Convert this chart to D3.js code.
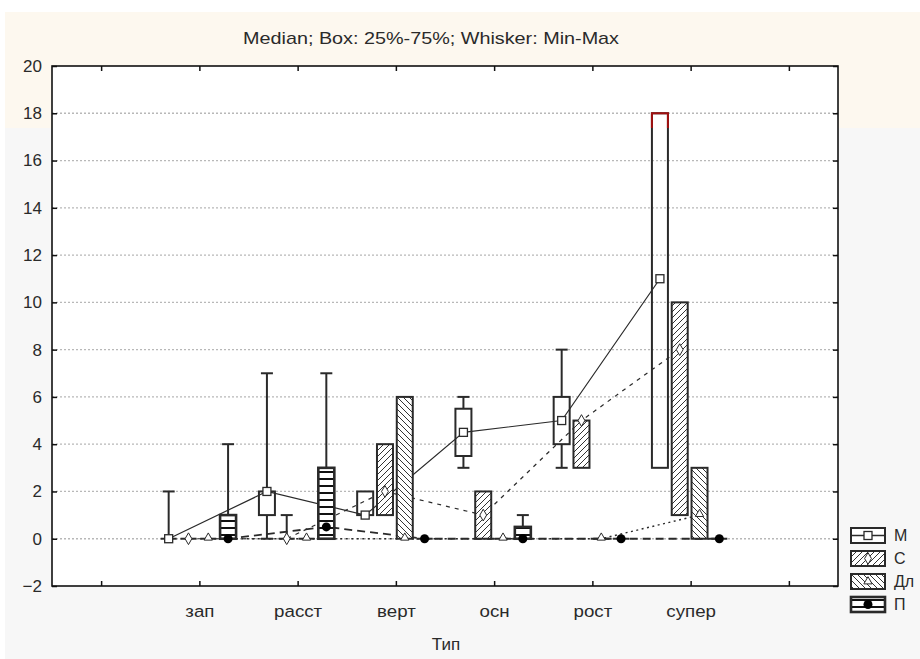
<!DOCTYPE html>
<html>
<head>
<meta charset="utf-8">
<script src="https://cdn.jsdelivr.net/npm/d3@7"></script>
<style>
  html, body { margin: 0; padding: 0; background: #ffffff; }
  svg { display: block; font-family: Arial, "Liberation Sans", sans-serif; }
</style>
</head>
<body>
<svg id="chart" width="920" height="659"></svg>
<script>
// Categories along the X axis
const categories = ["зап", "расст", "верт", "осн", "рост", "супер"];
const seriesNames = ["М", "С", "Дл", "П"];

// Series М: min, 25%, median, 75%, max
const mMin    = [0, 0, 1, 3,   3, 3];
const mQ1     = [0, 1, 1, 3.5, 4, 3];
const mMedian = [0, 2, 1, 4.5, 5, 11];
const mQ3     = [0, 2, 2, 5.5, 6, 18];
const mMax    = [2, 7, 2, 6,   8, 18];

// Series С
const cMin    = [0, 0, 1, 0, 3, 1];
const cQ1     = [0, 0, 1, 0, 3, 1];
const cMedian = [0, 0, 2, 1, 5, 8];
const cQ3     = [0, 0, 4, 2, 5, 10];
const cMax    = [0, 1, 4, 2, 5, 10];

// Series Дл
const dMin    = [0, 0, 0, 0, 0, 0];
const dQ1     = [0, 0, 0, 0, 0, 0];
const dMedian = [0, 0, 0, 0, 0, 1];
const dQ3     = [0, 0, 6, 0, 0, 3];
const dMax    = [0, 0, 6, 0, 0, 3];

// Series П
const pMin    = [0, 0,   0, 0,   0, 0];
const pQ1     = [0, 0,   0, 0,   0, 0];
const pMedian = [0, 0.5, 0, 0,   0, 0];
const pQ3     = [1, 3,   0, 0.5, 0, 0];
const pMax    = [4, 7,   0, 1,   0, 0];

const yTicks = [-2, 0, 2, 4, 6, 8, 10, 12, 14, 16, 18, 20];
const xTicks = [0, 1, 2, 3, 4, 5, 6, 7];

const svg = d3.select("#chart");
const W = 920, H = 659;
const plot = { left: 52, top: 66, right: 838, bottom: 586 };
const FS = 17;

// Backgrounds
svg.append("rect").attr("x", 0).attr("y", 0).attr("width", W).attr("height", H).attr("fill", "#ffffff");
svg.append("rect").attr("x", 5).attr("y", 12).attr("width", W - 5).attr("height", H - 12).attr("fill", "#f7f7f7");
const band = { x: 5, y: 12, w: W - 5, h: 116 };
svg.append("rect").attr("x", band.x).attr("y", band.y).attr("width", band.w).attr("height", band.h).attr("fill", "#fdf8ef");

const defs = svg.append("defs");
defs.append("clipPath").attr("id", "bandClip")
  .append("rect").attr("x", band.x).attr("y", band.y).attr("width", band.w).attr("height", band.h);

// Fill patterns
function hatch(id, dir) {
  const s = 6;
  const p = defs.append("pattern").attr("id", id).attr("patternUnits", "userSpaceOnUse")
    .attr("width", s).attr("height", s);
  p.append("rect").attr("width", s).attr("height", s).attr("fill", "#ffffff");
  const d = dir > 0
    ? `M-1,${s + 1} L${s + 1},-1 M-1,1 L1,-1 M${s - 1},${s + 1} L${s + 1},${s - 1}`
    : `M-1,-1 L${s + 1},${s + 1} M-1,${s - 1} L1,${s + 1} M${s - 1},-1 L${s + 1},1`;
  p.append("path").attr("d", d).attr("stroke", "#333").attr("stroke-width", 1).attr("fill", "none");
}
hatch("hatchC", 1);
hatch("hatchD", -1);
const stripes = defs.append("pattern").attr("id", "stripesP").attr("patternUnits", "userSpaceOnUse")
  .attr("width", 8).attr("height", 7);
stripes.append("rect").attr("width", 8).attr("height", 7).attr("fill", "#ffffff");
stripes.append("rect").attr("x", 0).attr("y", 2).attr("width", 8).attr("height", 2).attr("fill", "#111");

// Scales
const x = d3.scaleLinear().domain([-0.5, 7.5]).range([plot.left, plot.right]);
const y = d3.scaleLinear().domain([-2, 20]).range([plot.bottom, plot.top]);

// Plot area
svg.append("rect").attr("x", plot.left).attr("y", plot.top)
  .attr("width", plot.right - plot.left).attr("height", plot.bottom - plot.top).attr("fill", "#ffffff");

// Horizontal grid
svg.append("g").selectAll("line").data(yTicks.filter(t => t > -2 && t < 20)).join("line")
  .attr("x1", plot.left).attr("x2", plot.right)
  .attr("y1", d => y(d)).attr("y2", d => y(d))
  .attr("stroke", "#b8b8b8").attr("stroke-width", 1.3).attr("stroke-dasharray", "2,2");

// Series definitions
const series = [
  { name: "М",  min: mMin, q1: mQ1, med: mMedian, q3: mQ3, max: mMax, fill: "none", marker: "square", dash: null, lw: 1.2, bw: 2 },
  { name: "С",  min: cMin, q1: cQ1, med: cMedian, q3: cQ3, max: cMax, fill: "url(#hatchC)", marker: "diamond", dash: "4,5", lw: 1.2, bw: 2 },
  { name: "Дл", min: dMin, q1: dQ1, med: dMedian, q3: dQ3, max: dMax, fill: "url(#hatchD)", marker: "triangle", dash: "2,3.5", lw: 1.4, bw: 2 },
  { name: "П",  min: pMin, q1: pQ1, med: pMedian, q3: pQ3, max: pMax, fill: "url(#stripesP)", marker: "circle", dash: "8,5", lw: 1.8, bw: 2.6 }
];

const step = 19.8, boxW = 16;
const off = i => (i - 1.5) * step - 1;
const cx = (ci, si) => x(ci + 1) + off(si);
const ink = "#2a2a2a";

// Median lines
series.forEach((s, si) => {
  const line = d3.line().x((d, ci) => cx(ci, si)).y(d => y(d));
  svg.append("path").attr("d", line(s.med)).attr("fill", "none")
    .attr("stroke", ink).attr("stroke-width", s.lw)
    .attr("stroke-dasharray", s.dash);
});

function drawMarker(g, type, px, py) {
  if (type === "square") {
    g.append("rect").attr("x", px - 4).attr("y", py - 4).attr("width", 8).attr("height", 8)
      .attr("fill", "#fff").attr("stroke", ink).attr("stroke-width", 1.3);
  } else if (type === "diamond") {
    g.append("path").attr("d", d3.symbol(d3.symbolDiamond, 40)()).attr("transform", `translate(${px},${py})`)
      .attr("fill", "#fff").attr("stroke", ink).attr("stroke-width", 1);
  } else if (type === "triangle") {
    g.append("path").attr("d", d3.symbol(d3.symbolTriangle, 30)()).attr("transform", `translate(${px},${py - 1})`)
      .attr("fill", "#fff").attr("stroke", ink).attr("stroke-width", 1);
  } else {
    g.append("circle").attr("cx", px).attr("cy", py).attr("r", 4.5).attr("fill", "#000");
  }
}

// Boxes, whiskers and median markers
series.forEach((s, si) => {
  const g = svg.append("g");
  categories.forEach((c, ci) => {
    const px = cx(ci, si);
    const yMin = y(s.min[ci]), yMax = y(s.max[ci]), yQ1 = y(s.q1[ci]), yQ3 = y(s.q3[ci]);
    // whiskers
    if (s.max[ci] > s.q3[ci]) {
      g.append("line").attr("x1", px).attr("x2", px).attr("y1", yQ3).attr("y2", yMax).attr("stroke", ink).attr("stroke-width", 2);
      g.append("line").attr("x1", px - 6).attr("x2", px + 6).attr("y1", yMax).attr("y2", yMax).attr("stroke", ink).attr("stroke-width", 2);
    }
    if (s.min[ci] < s.q1[ci]) {
      g.append("line").attr("x1", px).attr("x2", px).attr("y1", yQ1).attr("y2", yMin).attr("stroke", ink).attr("stroke-width", 2);
      g.append("line").attr("x1", px - 6).attr("x2", px + 6).attr("y1", yMin).attr("y2", yMin).attr("stroke", ink).attr("stroke-width", 2);
    }
    // box
    if (s.q3[ci] > s.q1[ci]) {
      g.append("rect").attr("x", px - boxW / 2).attr("y", yQ3).attr("width", boxW).attr("height", yQ1 - yQ3)
        .attr("fill", s.fill).attr("stroke", ink).attr("stroke-width", s.bw);
      // outline part that falls inside the tinted top band
      svg.append("rect").attr("x", px - boxW / 2).attr("y", yQ3).attr("width", boxW).attr("height", yQ1 - yQ3)
        .attr("fill", "none").attr("stroke", "#a01010").attr("stroke-width", s.bw)
        .attr("clip-path", "url(#bandClip)");
    } else {
      g.append("line").attr("x1", px - boxW / 2).attr("x2", px + boxW / 2).attr("y1", yQ1).attr("y2", yQ1)
        .attr("stroke", ink).attr("stroke-width", 2);
    }
    drawMarker(g, s.marker, px, y(s.med[ci]));
  });
});

// Axes (ticks point inward)
const fmt = d3.format("d");
const gl = svg.append("g").attr("transform", `translate(${plot.left},0)`)
  .call(d3.axisLeft(y).tickValues(yTicks).tickSizeInner(-5).tickSizeOuter(0).tickPadding(10).tickFormat(fmt));
const gr = svg.append("g").attr("transform", `translate(${plot.right},0)`)
  .call(d3.axisRight(y).tickValues(yTicks).tickSizeInner(-5).tickSizeOuter(0).tickFormat(""));
const gt = svg.append("g").attr("transform", `translate(0,${plot.top})`)
  .call(d3.axisTop(x).tickValues(xTicks).tickSizeInner(-5).tickSizeOuter(0).tickFormat(""));
const gb = svg.append("g").attr("transform", `translate(0,${plot.bottom})`)
  .call(d3.axisBottom(x).tickValues(xTicks).tickSizeInner(-5).tickSizeOuter(0).tickPadding(19)
    .tickFormat(d => categories[d - 1] || ""));
[gl, gr, gt, gb].forEach(g => {
  g.select(".domain").remove();
  g.selectAll(".tick line").attr("stroke", "#111").attr("stroke-width", 1.5);
  g.selectAll("text").attr("font-size", FS).attr("fill", "#2a2a2a")
    .attr("font-family", "Arial, 'Liberation Sans', sans-serif");
});
gb.selectAll("text").attr("transform", "scale(1.1,1)");

// Frame
svg.append("rect").attr("x", plot.left).attr("y", plot.top)
  .attr("width", plot.right - plot.left).attr("height", plot.bottom - plot.top)
  .attr("fill", "none").attr("stroke", "#111").attr("stroke-width", 1.6);

// Titles
svg.append("text").attr("x", 431).attr("y", 40).attr("text-anchor", "middle").attr("dominant-baseline", "middle")
  .attr("font-size", FS).attr("fill", "#2a2a2a")
  .attr("textLength", 376).attr("lengthAdjust", "spacingAndGlyphs")
  .text("Median; Box: 25%-75%; Whisker: Min-Max");
svg.append("text").attr("x", 446).attr("y", 646).attr("text-anchor", "middle").attr("dominant-baseline", "middle")
  .attr("font-size", FS).attr("fill", "#2a2a2a").text("Тип");

// Legend
const leg = svg.append("g").attr("transform", "translate(851,528)");
series.forEach((s, si) => {
  const g = leg.append("g").attr("transform", `translate(0,${si * 23})`);
  const sw = 34, sh = 15;
  g.append("rect").attr("x", 0).attr("y", 0).attr("width", sw).attr("height", sh)
    .attr("fill", s.fill === "none" ? "#fff" : s.fill).attr("stroke", ink).attr("stroke-width", s.bw);
  if (si === 0) {
    g.append("line").attr("x1", 0).attr("x2", sw).attr("y1", sh / 2).attr("y2", sh / 2).attr("stroke", ink).attr("stroke-width", 1.3);
  }
  drawMarker(g, s.marker, sw / 2, sh / 2 + (s.marker === "triangle" ? 1 : 0));
  g.append("text").attr("x", sw + 9).attr("y", sh / 2 + 1).attr("dominant-baseline", "middle")
    .attr("font-size", FS - 1).attr("fill", "#2a2a2a").text(s.name);
});
</script>
</body>
</html>
